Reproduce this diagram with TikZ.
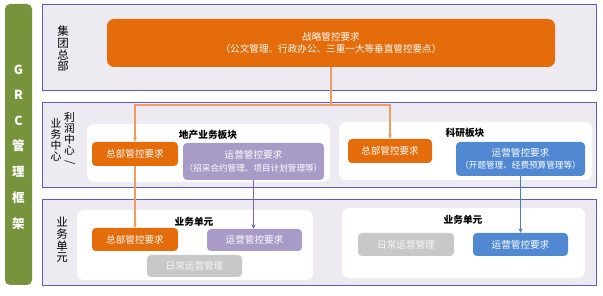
\documentclass[tikz,border=0pt]{standalone}
\usepackage{fontspec}
\setmainfont{Noto Sans CJK SC}
\usetikzlibrary{arrows.meta}
\definecolor{ora}{HTML}{E46C0A}
\definecolor{oraline}{HTML}{EF9C62}
\definecolor{pur}{HTML}{A99BC8}
\definecolor{purline}{HTML}{7D64A8}
\definecolor{blu}{HTML}{5089D2}
\definecolor{bluline}{HTML}{4A7BBA}
\definecolor{gry}{HTML}{C8C8C8}
\definecolor{grn}{HTML}{77933C}
\definecolor{panelfill}{HTML}{EDEAF2}
\definecolor{panelline}{HTML}{5C5CC0}
\newcommand{\subline}[1]{{\fontsize{8.6}{12}\selectfont #1}}
\begin{document}
\begin{tikzpicture}[x=1pt,y=-1pt,
  panel/.style={draw=panelline, line width=0.8pt, fill=panelfill},
  wpanel/.style={fill=white, rounded corners=7pt},
  cbox/.style={rounded corners=4pt, inner sep=0pt, align=center, text=white,
    font=\fontsize{9.6}{12.5}\selectfont},
  heading/.style={font=\fontsize{9.7}{11}\selectfont\bfseries, inner sep=0pt},
  vlabel/.style={font=\fontsize{11.5}{11.6}\selectfont, align=center, inner sep=0pt},
  vlabels/.style={font=\fontsize{10.8}{11}\selectfont, align=center, inner sep=0pt},
  grclabel/.style={font=\fontsize{12.5}{13}\selectfont\bfseries, text=white, inner sep=0pt},
  arr/.style={line width=1.4pt, -{Stealth[length=4.5pt,width=4pt]}},
]
\useasboundingbox (0,0) rectangle (603,296);
\fill[white] (0,0) rectangle (603,296);

% green bar
\fill[grn, rounded corners=5pt] (5,4) rectangle (32,285);
\foreach \t/\y [count=\i] in {G/70,R/95,C/121,管/146,理/172,框/198,架/224}
  \node[grclabel] (g\i) at (18.5,\y) {\t};

% panels
\draw[panel] (42,4) rectangle (596,90);
\draw[panel] (42,102) rectangle (596,187);
\draw[panel] (42,199) rectangle (596,285);

% panel labels
\node[vlabel] (l1) at (63,49) {集\\团\\总\\部};
\node[vlabels] (l2a) at (56,140) {业\\务\\中\\心};
\node[vlabels] (l2b) at (69.5,134) {利\\润\\中\\心};
\node[font=\fontsize{10.8}{11}\selectfont, rotate=-90, inner sep=0pt] (l2c) at (70,162.5) {/};
\node[vlabel] (l3) at (62,240) {业\\务\\单\\元};

% top box
\node[cbox, fill=ora, minimum width=448pt, minimum height=48pt, rounded corners=7pt] (top) at (331,43)
  {战略管控要求\\（公文管理、行政办公、三重一大等垂直管控要点）};

% middle white panels
\fill[wpanel] (87,124) rectangle (330,182);
\fill[wpanel] (339,122) rectangle (592,180);
\node[heading] (h1) at (208,135) {地产业务板块};
\node[heading] (h2) at (465,133) {科研板块};

\node[cbox, fill=ora, minimum width=86pt, minimum height=24pt] (mo1) at (135,154) {总部管控要求};
\node[cbox, fill=pur, minimum width=141pt, minimum height=37pt] (mp) at (253.5,161.5)
  {运营管控要求\\\subline{（招采合约管理、项目计划管理等）}};
\node[cbox, fill=ora, minimum width=84pt, minimum height=24pt] (mo2) at (390,151) {总部管控要求};
\node[cbox, fill=blu, minimum width=129pt, minimum height=34pt] (mb) at (520.5,159)
  {运营管控要求\\\subline{（开题管理、经费预算管理等）}};

% bottom white panels
\fill[wpanel] (77,210) rectangle (313,280);
\fill[wpanel] (342,208) rectangle (585,278);
\node[heading] (h3) at (194,222) {业务单元};
\node[heading] (h4) at (463,220) {业务单元};

\node[cbox, fill=ora, minimum width=86pt, minimum height=23pt] (bo) at (135,239.5) {总部管控要求};
\node[cbox, fill=pur, minimum width=95pt, minimum height=22pt] (bp) at (254.5,240) {运营管控要求};
\node[cbox, fill=gry, text=white!94!gray, minimum width=95pt, minimum height=22pt] (bg1) at (194.5,266) {日常运营管理};
\node[cbox, fill=gry, text=white!94!gray, minimum width=96pt, minimum height=23pt] (bg2) at (406,244.5) {日常运营管理};
\node[cbox, fill=blu, minimum width=95pt, minimum height=23pt] (bb) at (520.5,244.5) {运营管控要求};

% connectors
\coordinate (j) at (331,105);
\draw[oraline, line width=1.4pt] (top.south) -- (j);
\draw[arr, oraline] (j) -| (mo1.north);
\draw[arr, oraline] (j) -| (mo2.north);
\draw[arr, oraline] (mo1.south) -- (bo.north);
\draw[arr, purline] (mp.south) -- (mp.south |- bp.north);
\draw[arr, bluline] (mb.south) -- (bb.north);
\end{tikzpicture}
\end{document}
